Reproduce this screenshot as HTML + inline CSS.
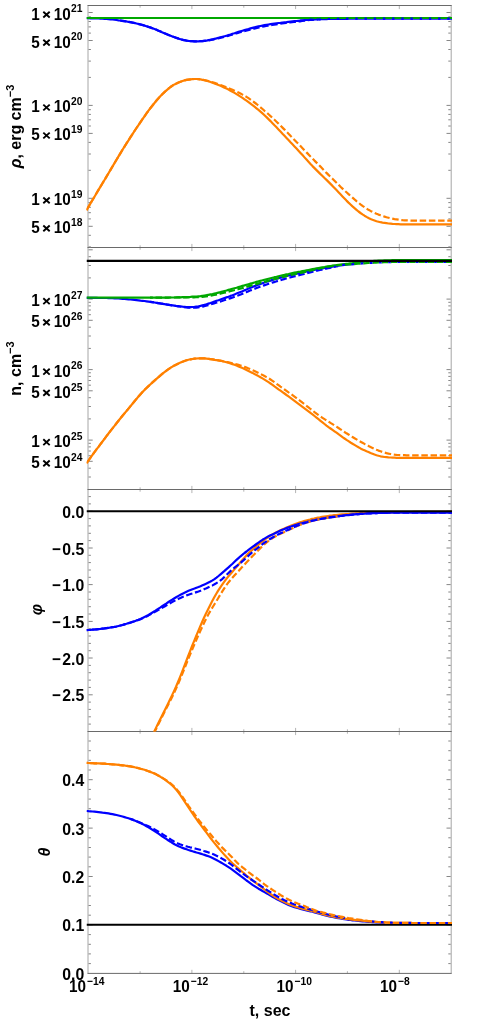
<!DOCTYPE html>
<html><head><meta charset="utf-8"><title>plot</title>
<style>html,body{margin:0;padding:0;background:#fff;}body{width:491px;height:1020px;overflow:hidden;font-family:"Liberation Sans",sans-serif;}</style>
</head><body>
<svg width="491" height="1020" viewBox="0 0 491 1020" style="display:block;will-change:transform">
<rect width="491" height="1020" fill="#fff"/>
<defs>
<clipPath id="c0"><rect x="86.5" y="5.5" width="365.5" height="242.0"/></clipPath>
<clipPath id="c1"><rect x="86.5" y="247.5" width="365.5" height="242.0"/></clipPath>
<clipPath id="c2"><rect x="86.5" y="489.5" width="365.5" height="242.0"/></clipPath>
<clipPath id="c3"><rect x="86.5" y="731.5" width="365.5" height="241.89999999999998"/></clipPath>
</defs>
<path d="M88.0 5.5 L88.0 973.4 M451.2 5.5 L451.2 973.4" fill="none" stroke="#a6a6a6" stroke-width="1"/>
<path d="M140.1 5.5 v2.2 M140.1 247.5 v-2.2 M191.9 5.5 v3.6 M191.9 247.5 v-3.6 M243.8 5.5 v2.2 M243.8 247.5 v-2.2 M295.6 5.5 v3.6 M295.6 247.5 v-3.6 M347.4 5.5 v2.2 M347.4 247.5 v-2.2 M399.3 5.5 v3.6 M399.3 247.5 v-3.6 M140.1 247.5 v2.2 M140.1 489.5 v-2.2 M191.9 247.5 v3.6 M191.9 489.5 v-3.6 M243.8 247.5 v2.2 M243.8 489.5 v-2.2 M295.6 247.5 v3.6 M295.6 489.5 v-3.6 M347.4 247.5 v2.2 M347.4 489.5 v-2.2 M399.3 247.5 v3.6 M399.3 489.5 v-3.6 M140.1 489.5 v2.2 M140.1 731.5 v-2.2 M191.9 489.5 v3.6 M191.9 731.5 v-3.6 M243.8 489.5 v2.2 M243.8 731.5 v-2.2 M295.6 489.5 v3.6 M295.6 731.5 v-3.6 M347.4 489.5 v2.2 M347.4 731.5 v-2.2 M399.3 489.5 v3.6 M399.3 731.5 v-3.6 M140.1 731.5 v2.2 M140.1 973.4 v-2.2 M191.9 731.5 v3.6 M191.9 973.4 v-3.6 M243.8 731.5 v2.2 M243.8 973.4 v-2.2 M295.6 731.5 v3.6 M295.6 973.4 v-3.6 M347.4 731.5 v2.2 M347.4 973.4 v-2.2 M399.3 731.5 v3.6 M399.3 973.4 v-3.6" fill="none" stroke="#b4b4b4" stroke-width="1"/>
<path d="M87.5 5.5 L451.7 5.5 M87.5 247.5 L451.7 247.5 M87.5 489.5 L451.7 489.5 M87.5 731.5 L451.7 731.5 M87.5 973.4 L451.7 973.4" fill="none" stroke="#6a6a6a" stroke-width="1"/>
<path d="M88.5 246.9 h2.4 M450.7 246.9 h-2.4 M88.5 235.3 h2.4 M450.7 235.3 h-2.4 M88.5 226.3 h4.2 M450.7 226.3 h-4.2 M88.5 218.9 h2.4 M450.7 218.9 h-2.4 M88.5 212.7 h2.4 M450.7 212.7 h-2.4 M88.5 207.3 h2.4 M450.7 207.3 h-2.4 M88.5 202.6 h2.4 M450.7 202.6 h-2.4 M88.5 198.3 h4.2 M450.7 198.3 h-4.2 M88.5 170.3 h2.4 M450.7 170.3 h-2.4 M88.5 154.0 h2.4 M450.7 154.0 h-2.4 M88.5 142.4 h2.4 M450.7 142.4 h-2.4 M88.5 133.4 h4.2 M450.7 133.4 h-4.2 M88.5 126.0 h2.4 M450.7 126.0 h-2.4 M88.5 119.8 h2.4 M450.7 119.8 h-2.4 M88.5 114.4 h2.4 M450.7 114.4 h-2.4 M88.5 109.7 h2.4 M450.7 109.7 h-2.4 M88.5 105.4 h4.2 M450.7 105.4 h-4.2 M88.5 77.4 h2.4 M450.7 77.4 h-2.4 M88.5 61.1 h2.4 M450.7 61.1 h-2.4 M88.5 49.5 h2.4 M450.7 49.5 h-2.4 M88.5 40.5 h4.2 M450.7 40.5 h-4.2 M88.5 33.1 h2.4 M450.7 33.1 h-2.4 M88.5 26.9 h2.4 M450.7 26.9 h-2.4 M88.5 21.5 h2.4 M450.7 21.5 h-2.4 M88.5 16.8 h2.4 M450.7 16.8 h-2.4 M88.5 12.5 h4.2 M450.7 12.5 h-4.2 M88.5 477.0 h2.4 M450.7 477.0 h-2.4 M88.5 468.2 h2.4 M450.7 468.2 h-2.4 M88.5 461.3 h4.2 M450.7 461.3 h-4.2 M88.5 455.7 h2.4 M450.7 455.7 h-2.4 M88.5 451.0 h2.4 M450.7 451.0 h-2.4 M88.5 446.9 h2.4 M450.7 446.9 h-2.4 M88.5 443.3 h2.4 M450.7 443.3 h-2.4 M88.5 440.1 h4.2 M450.7 440.1 h-4.2 M88.5 418.9 h2.4 M450.7 418.9 h-2.4 M88.5 406.5 h2.4 M450.7 406.5 h-2.4 M88.5 397.7 h2.4 M450.7 397.7 h-2.4 M88.5 390.8 h4.2 M450.7 390.8 h-4.2 M88.5 385.2 h2.4 M450.7 385.2 h-2.4 M88.5 380.5 h2.4 M450.7 380.5 h-2.4 M88.5 376.4 h2.4 M450.7 376.4 h-2.4 M88.5 372.8 h2.4 M450.7 372.8 h-2.4 M88.5 369.6 h4.2 M450.7 369.6 h-4.2 M88.5 348.4 h2.4 M450.7 348.4 h-2.4 M88.5 336.0 h2.4 M450.7 336.0 h-2.4 M88.5 327.2 h2.4 M450.7 327.2 h-2.4 M88.5 320.3 h4.2 M450.7 320.3 h-4.2 M88.5 314.7 h2.4 M450.7 314.7 h-2.4 M88.5 310.0 h2.4 M450.7 310.0 h-2.4 M88.5 305.9 h2.4 M450.7 305.9 h-2.4 M88.5 302.3 h2.4 M450.7 302.3 h-2.4 M88.5 299.1 h4.2 M450.7 299.1 h-4.2 M88.5 277.9 h2.4 M450.7 277.9 h-2.4 M88.5 265.5 h2.4 M450.7 265.5 h-2.4 M88.5 256.7 h2.4 M450.7 256.7 h-2.4 M88.5 249.8 h4.2 M450.7 249.8 h-4.2 M88.5 724.1 h2.4 M450.7 724.1 h-2.4 M88.5 716.8 h2.4 M450.7 716.8 h-2.4 M88.5 709.4 h2.4 M450.7 709.4 h-2.4 M88.5 702.1 h2.4 M450.7 702.1 h-2.4 M88.5 694.8 h4.2 M450.7 694.8 h-4.2 M88.5 687.4 h2.4 M450.7 687.4 h-2.4 M88.5 680.1 h2.4 M450.7 680.1 h-2.4 M88.5 672.7 h2.4 M450.7 672.7 h-2.4 M88.5 665.4 h2.4 M450.7 665.4 h-2.4 M88.5 658.0 h4.2 M450.7 658.0 h-4.2 M88.5 650.7 h2.4 M450.7 650.7 h-2.4 M88.5 643.4 h2.4 M450.7 643.4 h-2.4 M88.5 636.0 h2.4 M450.7 636.0 h-2.4 M88.5 628.7 h2.4 M450.7 628.7 h-2.4 M88.5 621.4 h4.2 M450.7 621.4 h-4.2 M88.5 614.0 h2.4 M450.7 614.0 h-2.4 M88.5 606.7 h2.4 M450.7 606.7 h-2.4 M88.5 599.3 h2.4 M450.7 599.3 h-2.4 M88.5 592.0 h2.4 M450.7 592.0 h-2.4 M88.5 584.6 h4.2 M450.7 584.6 h-4.2 M88.5 577.3 h2.4 M450.7 577.3 h-2.4 M88.5 570.0 h2.4 M450.7 570.0 h-2.4 M88.5 562.6 h2.4 M450.7 562.6 h-2.4 M88.5 555.3 h2.4 M450.7 555.3 h-2.4 M88.5 548.0 h4.2 M450.7 548.0 h-4.2 M88.5 540.6 h2.4 M450.7 540.6 h-2.4 M88.5 533.3 h2.4 M450.7 533.3 h-2.4 M88.5 525.9 h2.4 M450.7 525.9 h-2.4 M88.5 518.6 h2.4 M450.7 518.6 h-2.4 M88.5 511.2 h4.2 M450.7 511.2 h-4.2 M88.5 503.9 h2.4 M450.7 503.9 h-2.4 M88.5 496.6 h2.4 M450.7 496.6 h-2.4 M88.5 963.6 h2.4 M450.7 963.6 h-2.4 M88.5 953.9 h2.4 M450.7 953.9 h-2.4 M88.5 944.3 h2.4 M450.7 944.3 h-2.4 M88.5 934.6 h2.4 M450.7 934.6 h-2.4 M88.5 924.9 h4.2 M450.7 924.9 h-4.2 M88.5 915.2 h2.4 M450.7 915.2 h-2.4 M88.5 905.5 h2.4 M450.7 905.5 h-2.4 M88.5 895.9 h2.4 M450.7 895.9 h-2.4 M88.5 886.2 h2.4 M450.7 886.2 h-2.4 M88.5 876.5 h4.2 M450.7 876.5 h-4.2 M88.5 866.8 h2.4 M450.7 866.8 h-2.4 M88.5 857.1 h2.4 M450.7 857.1 h-2.4 M88.5 847.5 h2.4 M450.7 847.5 h-2.4 M88.5 837.8 h2.4 M450.7 837.8 h-2.4 M88.5 828.1 h4.2 M450.7 828.1 h-4.2 M88.5 818.4 h2.4 M450.7 818.4 h-2.4 M88.5 808.7 h2.4 M450.7 808.7 h-2.4 M88.5 799.1 h2.4 M450.7 799.1 h-2.4 M88.5 789.4 h2.4 M450.7 789.4 h-2.4 M88.5 779.7 h4.2 M450.7 779.7 h-4.2 M88.5 770.0 h2.4 M450.7 770.0 h-2.4 M88.5 760.3 h2.4 M450.7 760.3 h-2.4 M88.5 750.7 h2.4 M450.7 750.7 h-2.4 M88.5 741.0 h2.4 M450.7 741.0 h-2.4" fill="none" stroke="#868686" stroke-width="1"/>
<g clip-path="url(#c0)">
<path d="M86.5 210.2 L88.5 206.8 L90.5 203.4 L92.5 200.0 L94.5 196.7 L96.5 193.3 L98.5 189.9 L100.5 186.6 L102.5 183.3 L104.5 180.0 L106.5 176.6 L108.5 173.3 L110.5 169.9 L112.5 166.5 L114.5 163.1 L116.5 159.8 L118.5 156.4 L120.5 153.1 L122.5 149.8 L124.5 146.6 L126.5 143.4 L128.5 140.3 L130.5 137.2 L132.5 134.1 L134.5 131.0 L136.5 128.0 L138.5 125.1 L140.5 122.1 L142.5 119.2 L144.5 116.3 L146.5 113.4 L148.5 110.7 L150.5 108.0 L152.5 105.5 L154.5 103.0 L156.5 100.5 L158.5 98.2 L160.5 96.1 L162.5 94.0 L164.5 92.1 L166.5 90.3 L168.5 88.6 L170.5 87.0 L172.5 85.6 L174.5 84.4 L176.5 83.4 L178.5 82.5 L180.5 81.7 L182.5 81.0 L184.5 80.4 L186.5 79.9 L188.5 79.6 L190.5 79.3 L192.5 79.1 L194.5 79.0 L196.5 79.0 L198.5 79.1 L200.5 79.4 L202.5 79.8 L204.5 80.2 L206.5 80.7 L208.5 81.3 L210.5 82.0 L212.5 82.7 L214.5 83.4 L216.5 84.2 L218.5 85.0 L220.5 85.8 L222.5 86.7 L224.5 87.7 L226.5 88.6 L228.5 89.6 L230.5 90.7 L232.5 91.8 L234.5 92.9 L236.5 94.1 L238.5 95.3 L240.5 96.6 L242.5 97.9 L244.5 99.3 L246.5 100.7 L248.5 102.2 L250.5 103.7 L252.5 105.2 L254.5 106.7 L256.5 108.3 L258.5 109.9 L260.5 111.6 L262.5 113.4 L264.5 115.2 L266.5 117.1 L268.5 119.1 L270.5 121.1 L272.5 123.2 L274.5 125.3 L276.5 127.3 L278.5 129.4 L280.5 131.5 L282.5 133.7 L284.5 135.8 L286.5 137.9 L288.5 140.0 L290.5 142.2 L292.5 144.3 L294.5 146.4 L296.5 148.5 L298.5 150.7 L300.5 152.9 L302.5 155.1 L304.5 157.4 L306.5 159.6 L308.5 161.8 L310.5 164.0 L312.5 166.1 L314.5 168.1 L316.5 170.1 L318.5 172.1 L320.5 174.1 L322.5 176.0 L324.5 178.0 L326.5 179.9 L328.5 181.9 L330.5 183.9 L332.5 185.9 L334.5 188.0 L336.5 190.1 L338.5 192.2 L340.5 194.3 L342.5 196.4 L344.5 198.5 L346.5 200.6 L348.5 202.6 L350.5 204.5 L352.5 206.4 L354.5 208.1 L356.5 209.8 L358.5 211.5 L360.5 213.0 L362.5 214.4 L364.5 215.7 L366.5 216.9 L368.5 218.0 L370.5 219.0 L372.5 219.8 L374.5 220.5 L376.5 221.2 L378.5 221.7 L380.5 222.2 L382.5 222.6 L384.5 222.9 L386.5 223.2 L388.5 223.5 L390.5 223.7 L392.5 223.9 L394.5 224.0 L396.5 224.1 L398.5 224.2 L400.5 224.3 L402.5 224.3 L404.5 224.3 L406.5 224.4 L408.5 224.4 L410.5 224.4 L412.5 224.4 L414.5 224.4 L416.5 224.4 L418.5 224.4 L420.5 224.4 L422.5 224.4 L424.5 224.4 L426.5 224.4 L428.5 224.4 L430.5 224.4 L432.5 224.4 L434.5 224.4 L436.5 224.4 L438.5 224.4 L440.5 224.4 L442.5 224.4 L444.5 224.4 L446.5 224.4 L448.5 224.4 L450.5 224.4 L452.5 224.4" fill="none" stroke="#FF8000" stroke-width="2.2" stroke-linejoin="round"/>
<path d="M86.5 18.2 L88.5 18.2 L90.5 18.3 L92.5 18.3 L94.5 18.4 L96.5 18.4 L98.5 18.5 L100.5 18.6 L102.5 18.7 L104.5 18.8 L106.5 18.9 L108.5 19.1 L110.5 19.3 L112.5 19.5 L114.5 19.7 L116.5 20.0 L118.5 20.3 L120.5 20.5 L122.5 20.8 L124.5 21.2 L126.5 21.5 L128.5 21.8 L130.5 22.2 L132.5 22.6 L134.5 23.0 L136.5 23.5 L138.5 24.0 L140.5 24.5 L142.5 25.0 L144.5 25.6 L146.5 26.2 L148.5 26.9 L150.5 27.5 L152.5 28.3 L154.5 29.0 L156.5 29.8 L158.5 30.7 L160.5 31.5 L162.5 32.4 L164.5 33.3 L166.5 34.1 L168.5 34.9 L170.5 35.7 L172.5 36.5 L174.5 37.2 L176.5 37.9 L178.5 38.6 L180.5 39.2 L182.5 39.8 L184.5 40.2 L186.5 40.6 L188.5 40.9 L190.5 41.1 L192.5 41.2 L194.5 41.3 L196.5 41.3 L198.5 41.3 L200.5 41.2 L202.5 41.1 L204.5 40.8 L206.5 40.6 L208.5 40.2 L210.5 39.8 L212.5 39.4 L214.5 38.9 L216.5 38.4 L218.5 37.8 L220.5 37.3 L222.5 36.8 L224.5 36.3 L226.5 35.7 L228.5 35.1 L230.5 34.5 L232.5 33.8 L234.5 33.2 L236.5 32.5 L238.5 31.9 L240.5 31.3 L242.5 30.7 L244.5 30.1 L246.5 29.5 L248.5 29.0 L250.5 28.4 L252.5 27.9 L254.5 27.4 L256.5 26.9 L258.5 26.4 L260.5 26.0 L262.5 25.6 L264.5 25.2 L266.5 24.8 L268.5 24.5 L270.5 24.2 L272.5 23.9 L274.5 23.6 L276.5 23.3 L278.5 23.0 L280.5 22.8 L282.5 22.5 L284.5 22.3 L286.5 22.1 L288.5 21.8 L290.5 21.6 L292.5 21.4 L294.5 21.2 L296.5 21.0 L298.5 20.8 L300.5 20.6 L302.5 20.4 L304.5 20.2 L306.5 20.0 L308.5 19.9 L310.5 19.7 L312.5 19.6 L314.5 19.5 L316.5 19.4 L318.5 19.3 L320.5 19.2 L322.5 19.2 L324.5 19.1 L326.5 19.1 L328.5 19.0 L330.5 19.0 L332.5 18.9 L334.5 18.9 L336.5 18.8 L338.5 18.8 L340.5 18.8 L342.5 18.8 L344.5 18.8 L346.5 18.8 L348.5 18.7 L350.5 18.7 L352.5 18.7 L354.5 18.7 L356.5 18.7 L358.5 18.7 L360.5 18.7 L362.5 18.7 L364.5 18.7 L366.5 18.7 L368.5 18.7 L370.5 18.7 L372.5 18.7 L374.5 18.7 L376.5 18.7 L378.5 18.7 L380.5 18.7 L382.5 18.7 L384.5 18.7 L386.5 18.7 L388.5 18.7 L390.5 18.7 L392.5 18.7 L394.5 18.7 L396.5 18.7 L398.5 18.7 L400.5 18.7 L402.5 18.7 L404.5 18.7 L406.5 18.7 L408.5 18.7 L410.5 18.7 L412.5 18.7 L414.5 18.7 L416.5 18.7 L418.5 18.7 L420.5 18.7 L422.5 18.7 L424.5 18.7 L426.5 18.7 L428.5 18.7 L430.5 18.7 L432.5 18.7 L434.5 18.7 L436.5 18.7 L438.5 18.7 L440.5 18.7 L442.5 18.7 L444.5 18.7 L446.5 18.7 L448.5 18.7 L450.5 18.7 L452.5 18.7" fill="none" stroke="#0000FF" stroke-width="2.2" stroke-linejoin="round"/>
<path d="M86.5 18.0 L452.5 18.0" fill="none" stroke="#00A800" stroke-width="2.2"/>
<path d="M86.5 210.2 L88.5 206.8 L90.5 203.4 L92.5 200.0 L94.5 196.7 L96.5 193.3 L98.5 189.9 L100.5 186.6 L102.5 183.3 L104.5 180.0 L106.5 176.6 L108.5 173.3 L110.5 169.9 L112.5 166.5 L114.5 163.1 L116.5 159.8 L118.5 156.4 L120.5 153.1 L122.5 149.8 L124.5 146.6 L126.5 143.4 L128.5 140.3 L130.5 137.2 L132.5 134.1 L134.5 131.0 L136.5 128.0 L138.5 125.1 L140.5 122.1 L142.5 119.2 L144.5 116.3 L146.5 113.4 L148.5 110.7 L150.5 108.0 L152.5 105.5 L154.5 103.0 L156.5 100.5 L158.5 98.2 L160.5 96.1 L162.5 94.0 L164.5 92.1 L166.5 90.3 L168.5 88.6 L170.5 87.0 L172.5 85.6 L174.5 84.4 L176.5 83.4 L178.5 82.5 L180.5 81.7 L182.5 81.0 L184.5 80.4 L186.5 79.9 L188.5 79.6 L190.5 79.3 L192.5 79.1 L194.5 79.0 L196.5 79.0 L198.5 79.1 L200.5 79.4 L202.5 79.7 L204.5 80.1 L206.5 80.6 L208.5 81.1 L210.5 81.7 L212.5 82.3 L214.5 82.9 L216.5 83.6 L218.5 84.3 L220.5 85.0 L222.5 85.8 L224.5 86.6 L226.5 87.4 L228.5 88.2 L230.5 89.0 L232.5 89.8 L234.5 90.7 L236.5 91.5 L238.5 92.5 L240.5 93.5 L242.5 94.6 L244.5 95.7 L246.5 96.9 L248.5 98.2 L250.5 99.6 L252.5 101.0 L254.5 102.5 L256.5 104.0 L258.5 105.7 L260.5 107.3 L262.5 109.0 L264.5 110.8 L266.5 112.5 L268.5 114.3 L270.5 116.1 L272.5 117.9 L274.5 119.8 L276.5 121.7 L278.5 123.6 L280.5 125.6 L282.5 127.6 L284.5 129.6 L286.5 131.7 L288.5 133.7 L290.5 135.8 L292.5 137.8 L294.5 139.9 L296.5 142.0 L298.5 144.0 L300.5 146.1 L302.5 148.2 L304.5 150.3 L306.5 152.4 L308.5 154.4 L310.5 156.5 L312.5 158.5 L314.5 160.6 L316.5 162.6 L318.5 164.6 L320.5 166.6 L322.5 168.7 L324.5 170.8 L326.5 172.9 L328.5 174.9 L330.5 176.8 L332.5 178.7 L334.5 180.7 L336.5 182.7 L338.5 184.7 L340.5 186.7 L342.5 188.6 L344.5 190.5 L346.5 192.3 L348.5 194.1 L350.5 195.9 L352.5 197.6 L354.5 199.4 L356.5 201.1 L358.5 202.7 L360.5 204.3 L362.5 205.8 L364.5 207.2 L366.5 208.5 L368.5 209.8 L370.5 210.9 L372.5 211.9 L374.5 212.9 L376.5 213.8 L378.5 214.6 L380.5 215.3 L382.5 216.0 L384.5 216.6 L386.5 217.2 L388.5 217.7 L390.5 218.2 L392.5 218.7 L394.5 219.1 L396.5 219.4 L398.5 219.7 L400.5 220.0 L402.5 220.2 L404.5 220.3 L406.5 220.4 L408.5 220.5 L410.5 220.6 L412.5 220.6 L414.5 220.7 L416.5 220.7 L418.5 220.7 L420.5 220.7 L422.5 220.7 L424.5 220.7 L426.5 220.7 L428.5 220.7 L430.5 220.7 L432.5 220.7 L434.5 220.7 L436.5 220.7 L438.5 220.7 L440.5 220.7 L442.5 220.7 L444.5 220.7 L446.5 220.7 L448.5 220.7 L450.5 220.7 L452.5 220.7" fill="none" stroke="#FF8000" stroke-width="2.2" stroke-linejoin="round" stroke-dasharray="6.5 2.7" stroke-dashoffset="0.33"/>
<path d="M120.0 20.5 L122.0 20.8 L124.0 21.1 L126.0 21.4 L128.0 21.8 L130.0 22.1 L132.0 22.5 L134.0 22.9 L136.0 23.4 L138.0 23.9 L140.0 24.4 L142.0 24.9 L144.0 25.4 L146.0 26.1 L148.0 26.7 L150.0 27.4 L152.0 28.1 L154.0 28.8 L156.0 29.6 L158.0 30.5 L160.0 31.3 L162.0 32.2 L164.0 33.0 L166.0 33.9 L168.0 34.7 L170.0 35.5 L172.0 36.3 L174.0 37.0 L176.0 37.8 L178.0 38.4 L180.0 39.1 L182.0 39.6 L184.0 40.1 L186.0 40.5 L188.0 40.9 L190.0 41.1 L192.0 41.2 L194.0 41.3 L196.0 41.3 L198.0 41.3 L200.0 41.2 L202.0 41.1 L204.0 40.9 L206.0 40.7 L208.0 40.4 L210.0 40.1 L212.0 39.7 L214.0 39.3 L216.0 38.8 L218.0 38.4 L220.0 37.9 L222.0 37.4 L224.0 36.9 L226.0 36.4 L228.0 35.9 L230.0 35.3 L232.0 34.7 L234.0 34.1 L236.0 33.5 L238.0 32.9 L240.0 32.3 L242.0 31.8 L244.0 31.2 L246.0 30.6 L248.0 30.1 L250.0 29.6 L252.0 29.1 L254.0 28.6 L256.0 28.1 L258.0 27.6 L260.0 27.2 L262.0 26.8 L264.0 26.4 L266.0 26.0 L268.0 25.7 L270.0 25.3 L272.0 25.0 L274.0 24.7 L276.0 24.4 L278.0 24.1 L280.0 23.8 L282.0 23.5 L284.0 23.2 L286.0 23.0 L288.0 22.7 L290.0 22.5 L292.0 22.2 L294.0 22.0 L296.0 21.8 L298.0 21.5 L300.0 21.3 L302.0 21.0 L304.0 20.7 L306.0 20.5 L308.0 20.2 L310.0 20.0 L312.0 19.8 L314.0 19.7 L316.0 19.5 L318.0 19.4" fill="none" stroke="#0000FF" stroke-width="2.2" stroke-linejoin="round" stroke-dasharray="6.5 2.7" stroke-dashoffset="0.00"/>
<path d="M300.0 20.7 L302.0 20.5 L304.0 20.3 L306.0 20.1 L308.0 19.9 L310.0 19.7 L312.0 19.6 L314.0 19.5 L316.0 19.4 L318.0 19.3 L320.0 19.3 L322.0 19.2 L324.0 19.1 L326.0 19.1 L328.0 19.0 L330.0 19.0 L332.0 18.9 L334.0 18.9 L336.0 18.9 L338.0 18.8 L340.0 18.8 L342.0 18.8 L344.0 18.8 L346.0 18.8 L348.0 18.7 L350.0 18.7 L352.0 18.7 L354.0 18.7 L356.0 18.7 L358.0 18.7 L360.0 18.7 L362.0 18.7 L364.0 18.7 L366.0 18.7 L368.0 18.7 L370.0 18.7 L372.0 18.7 L374.0 18.7 L376.0 18.7 L378.0 18.7 L380.0 18.7 L382.0 18.7 L384.0 18.7 L386.0 18.7 L388.0 18.7 L390.0 18.7 L392.0 18.7 L394.0 18.7 L396.0 18.7 L398.0 18.7 L400.0 18.7 L402.0 18.7 L404.0 18.7 L406.0 18.7 L408.0 18.7 L410.0 18.7 L412.0 18.7 L414.0 18.7 L416.0 18.7 L418.0 18.7 L420.0 18.7 L422.0 18.7 L424.0 18.7 L426.0 18.7 L428.0 18.7 L430.0 18.7 L432.0 18.7 L434.0 18.7 L436.0 18.7 L438.0 18.7 L440.0 18.7 L442.0 18.7 L444.0 18.7 L446.0 18.7 L448.0 18.7 L450.0 18.7 L452.0 18.7 L452.5 18.7" fill="none" stroke="#0000FF" stroke-width="2.2" stroke-dasharray="2.4 6.80" stroke-dashoffset="9.04"/>
</g>
<g clip-path="url(#c1)">
<path d="M86.5 463.4 L88.5 460.5 L90.5 457.6 L92.5 454.8 L94.5 452.1 L96.5 449.4 L98.5 446.8 L100.5 444.1 L102.5 441.5 L104.5 438.8 L106.5 436.2 L108.5 433.5 L110.5 430.9 L112.5 428.4 L114.5 425.8 L116.5 423.3 L118.5 420.8 L120.5 418.3 L122.5 415.8 L124.5 413.4 L126.5 411.0 L128.5 408.6 L130.5 406.1 L132.5 403.7 L134.5 401.3 L136.5 398.9 L138.5 396.5 L140.5 394.2 L142.5 392.0 L144.5 389.9 L146.5 388.0 L148.5 386.1 L150.5 384.2 L152.5 382.4 L154.5 380.6 L156.5 378.8 L158.5 377.1 L160.5 375.4 L162.5 373.7 L164.5 372.1 L166.5 370.6 L168.5 369.2 L170.5 367.8 L172.5 366.6 L174.5 365.4 L176.5 364.4 L178.5 363.4 L180.5 362.5 L182.5 361.7 L184.5 361.0 L186.5 360.3 L188.5 359.8 L190.5 359.3 L192.5 359.0 L194.5 358.7 L196.5 358.5 L198.5 358.3 L200.5 358.3 L202.5 358.3 L204.5 358.4 L206.5 358.6 L208.5 358.8 L210.5 359.1 L212.5 359.4 L214.5 359.8 L216.5 360.1 L218.5 360.4 L220.5 360.8 L222.5 361.3 L224.5 361.7 L226.5 362.2 L228.5 362.8 L230.5 363.4 L232.5 364.1 L234.5 364.8 L236.5 365.6 L238.5 366.4 L240.5 367.2 L242.5 368.1 L244.5 369.0 L246.5 369.9 L248.5 370.9 L250.5 371.9 L252.5 372.9 L254.5 374.0 L256.5 375.0 L258.5 376.1 L260.5 377.3 L262.5 378.4 L264.5 379.6 L266.5 380.9 L268.5 382.2 L270.5 383.5 L272.5 384.9 L274.5 386.4 L276.5 387.8 L278.5 389.3 L280.5 390.7 L282.5 392.1 L284.5 393.5 L286.5 395.0 L288.5 396.4 L290.5 397.8 L292.5 399.3 L294.5 400.8 L296.5 402.3 L298.5 403.8 L300.5 405.3 L302.5 406.8 L304.5 408.3 L306.5 409.8 L308.5 411.3 L310.5 412.9 L312.5 414.4 L314.5 416.0 L316.5 417.6 L318.5 419.2 L320.5 420.8 L322.5 422.4 L324.5 424.0 L326.5 425.6 L328.5 427.1 L330.5 428.5 L332.5 429.9 L334.5 431.3 L336.5 432.7 L338.5 434.2 L340.5 435.6 L342.5 437.1 L344.5 438.5 L346.5 439.9 L348.5 441.2 L350.5 442.5 L352.5 443.7 L354.5 444.9 L356.5 446.1 L358.5 447.3 L360.5 448.4 L362.5 449.4 L364.5 450.3 L366.5 451.2 L368.5 452.0 L370.5 452.9 L372.5 453.7 L374.5 454.5 L376.5 455.2 L378.5 455.8 L380.5 456.3 L382.5 456.7 L384.5 457.0 L386.5 457.2 L388.5 457.4 L390.5 457.5 L392.5 457.6 L394.5 457.7 L396.5 457.8 L398.5 457.8 L400.5 457.8 L402.5 457.8 L404.5 457.8 L406.5 457.9 L408.5 457.9 L410.5 457.9 L412.5 457.9 L414.5 457.9 L416.5 457.9 L418.5 457.9 L420.5 457.9 L422.5 457.9 L424.5 457.9 L426.5 457.9 L428.5 457.9 L430.5 457.9 L432.5 457.9 L434.5 457.9 L436.5 457.9 L438.5 457.9 L440.5 457.9 L442.5 457.9 L444.5 457.8 L446.5 457.8 L448.5 457.8 L450.5 457.8 L452.5 457.8" fill="none" stroke="#FF8000" stroke-width="2.2" stroke-linejoin="round"/>
<path d="M86.5 297.9 L88.5 297.9 L90.5 297.9 L92.5 297.9 L94.5 297.9 L96.5 297.9 L98.5 298.0 L100.5 298.0 L102.5 298.0 L104.5 298.0 L106.5 298.0 L108.5 298.1 L110.5 298.2 L112.5 298.2 L114.5 298.3 L116.5 298.4 L118.5 298.5 L120.5 298.7 L122.5 298.8 L124.5 299.0 L126.5 299.2 L128.5 299.4 L130.5 299.5 L132.5 299.7 L134.5 299.9 L136.5 300.1 L138.5 300.3 L140.5 300.6 L142.5 300.8 L144.5 301.0 L146.5 301.3 L148.5 301.6 L150.5 301.9 L152.5 302.2 L154.5 302.5 L156.5 302.8 L158.5 303.1 L160.5 303.5 L162.5 303.8 L164.5 304.1 L166.5 304.5 L168.5 304.8 L170.5 305.1 L172.5 305.4 L174.5 305.7 L176.5 306.0 L178.5 306.2 L180.5 306.5 L182.5 306.7 L184.5 306.8 L186.5 307.0 L188.5 307.1 L190.5 307.1 L192.5 307.0 L194.5 306.9 L196.5 306.6 L198.5 306.3 L200.5 305.9 L202.5 305.4 L204.5 304.9 L206.5 304.3 L208.5 303.6 L210.5 303.0 L212.5 302.3 L214.5 301.5 L216.5 300.8 L218.5 300.2 L220.5 299.5 L222.5 298.8 L224.5 298.1 L226.5 297.4 L228.5 296.7 L230.5 295.9 L232.5 295.2 L234.5 294.4 L236.5 293.6 L238.5 292.8 L240.5 292.0 L242.5 291.2 L244.5 290.3 L246.5 289.5 L248.5 288.6 L250.5 287.8 L252.5 286.9 L254.5 286.1 L256.5 285.4 L258.5 284.6 L260.5 283.9 L262.5 283.2 L264.5 282.5 L266.5 281.8 L268.5 281.2 L270.5 280.6 L272.5 279.9 L274.5 279.3 L276.5 278.8 L278.5 278.2 L280.5 277.6 L282.5 277.1 L284.5 276.5 L286.5 276.0 L288.5 275.5 L290.5 275.0 L292.5 274.6 L294.5 274.1 L296.5 273.7 L298.5 273.3 L300.5 272.8 L302.5 272.4 L304.5 272.0 L306.5 271.5 L308.5 271.1 L310.5 270.7 L312.5 270.2 L314.5 269.8 L316.5 269.4 L318.5 269.1 L320.5 268.7 L322.5 268.3 L324.5 268.0 L326.5 267.7 L328.5 267.3 L330.5 267.0 L332.5 266.6 L334.5 266.3 L336.5 266.0 L338.5 265.7 L340.5 265.4 L342.5 265.1 L344.5 264.9 L346.5 264.6 L348.5 264.4 L350.5 264.2 L352.5 264.0 L354.5 263.7 L356.0 263.6" fill="none" stroke="#0000FF" stroke-width="2.2" stroke-linejoin="round"/>
<path d="M86.5 297.7 L88.5 297.7 L90.5 297.7 L92.5 297.7 L94.5 297.7 L96.5 297.7 L98.5 297.7 L100.5 297.7 L102.5 297.7 L104.5 297.7 L106.5 297.7 L108.5 297.7 L110.5 297.7 L112.5 297.7 L114.5 297.7 L116.5 297.7 L118.5 297.7 L120.5 297.7 L122.5 297.7 L124.5 297.7 L126.5 297.7 L128.5 297.7 L130.5 297.7 L132.5 297.7 L134.5 297.7 L136.5 297.7 L138.5 297.7 L140.5 297.7 L142.5 297.7 L144.5 297.7 L146.5 297.7 L148.5 297.7 L150.5 297.7 L152.5 297.7 L154.5 297.7 L156.5 297.7 L158.5 297.7 L160.5 297.6 L162.5 297.6 L164.5 297.6 L166.5 297.6 L168.5 297.6 L170.5 297.5 L172.5 297.5 L174.5 297.5 L176.5 297.4 L178.5 297.4 L180.5 297.3 L182.5 297.2 L184.5 297.2 L186.5 297.1 L188.5 297.0 L190.5 296.9 L192.5 296.7 L194.5 296.6 L196.5 296.5 L198.5 296.3 L200.5 296.1 L202.5 295.8 L204.5 295.5 L206.5 295.2 L208.5 294.8 L210.5 294.4 L212.5 294.0 L214.5 293.5 L216.5 293.1 L218.5 292.6 L220.5 292.1 L222.5 291.5 L224.5 291.0 L226.5 290.5 L228.5 289.9 L230.5 289.4 L232.5 288.8 L234.5 288.2 L236.5 287.7 L238.5 287.1 L240.5 286.5 L242.5 285.9 L244.5 285.4 L246.5 284.8 L248.5 284.2 L250.5 283.6 L252.5 283.1 L254.5 282.5 L256.5 281.9 L258.5 281.4 L260.5 280.8 L262.5 280.3 L264.5 279.7 L266.5 279.2 L268.5 278.7 L270.5 278.2 L272.5 277.7 L274.5 277.2 L276.5 276.8 L278.5 276.3 L280.5 275.8 L282.5 275.3 L284.5 274.9 L286.5 274.4 L288.5 274.0 L290.5 273.5 L292.5 273.1 L294.5 272.7 L296.5 272.3 L298.5 271.9 L300.5 271.6 L302.5 271.2 L304.5 270.8 L306.5 270.4 L308.5 270.0 L310.5 269.6 L312.5 269.2 L314.5 268.8 L316.5 268.4 L318.5 268.0 L320.5 267.7 L322.5 267.3 L324.5 267.0 L326.5 266.6 L328.5 266.3 L330.5 266.0 L332.5 265.7 L334.5 265.3 L336.5 265.1 L338.5 264.8 L340.5 264.5 L342.5 264.3 L344.5 264.1 L346.5 263.9 L348.5 263.7 L350.5 263.4 L352.5 263.2 L354.5 262.9 L356.5 262.7 L358.5 262.4 L360.5 262.2 L362.5 261.9 L364.5 261.7 L366.5 261.5 L368.5 261.3 L370.5 261.2 L372.5 261.0 L374.5 260.9 L376.5 260.8 L378.5 260.7 L380.5 260.6 L382.5 260.5 L384.5 260.4 L386.5 260.3 L388.5 260.3 L390.5 260.3 L392.5 260.2 L394.5 260.2 L396.5 260.2 L398.5 260.2 L400.5 260.1 L402.5 260.1 L404.5 260.1 L406.5 260.1 L408.5 260.1 L410.5 260.1 L412.5 260.1 L414.5 260.1 L416.5 260.1 L418.5 260.1 L420.5 260.1 L422.5 260.1 L424.5 260.1 L426.5 260.1 L428.5 260.1 L430.5 260.1 L432.5 260.1 L434.5 260.1 L436.5 260.1 L438.5 260.1 L440.5 260.1 L442.5 260.1 L444.5 260.1 L446.5 260.1 L448.5 260.1 L450.5 260.1 L452.5 260.1" fill="none" stroke="#00A800" stroke-width="2.2" stroke-linejoin="round"/>
<path d="M86.5 463.4 L88.5 460.5 L90.5 457.6 L92.5 454.8 L94.5 452.1 L96.5 449.4 L98.5 446.8 L100.5 444.1 L102.5 441.5 L104.5 438.8 L106.5 436.2 L108.5 433.5 L110.5 430.9 L112.5 428.4 L114.5 425.8 L116.5 423.3 L118.5 420.8 L120.5 418.3 L122.5 415.8 L124.5 413.4 L126.5 411.0 L128.5 408.6 L130.5 406.1 L132.5 403.7 L134.5 401.3 L136.5 398.9 L138.5 396.5 L140.5 394.2 L142.5 392.0 L144.5 389.9 L146.5 388.0 L148.5 386.1 L150.5 384.2 L152.5 382.4 L154.5 380.6 L156.5 378.8 L158.5 377.1 L160.5 375.4 L162.5 373.7 L164.5 372.1 L166.5 370.6 L168.5 369.2 L170.5 367.8 L172.5 366.6 L174.5 365.4 L176.5 364.4 L178.5 363.4 L180.5 362.5 L182.5 361.7 L184.5 361.0 L186.5 360.3 L188.5 359.8 L190.5 359.3 L192.5 359.0 L194.5 358.7 L196.5 358.5 L198.5 358.3 L200.5 358.3 L202.5 358.3 L204.5 358.4 L206.5 358.6 L208.5 358.8 L210.5 359.1 L212.5 359.3 L214.5 359.6 L216.5 359.9 L218.5 360.3 L220.5 360.6 L222.5 361.0 L224.5 361.4 L226.5 361.9 L228.5 362.3 L230.5 362.8 L232.5 363.3 L234.5 363.8 L236.5 364.3 L238.5 364.9 L240.5 365.5 L242.5 366.2 L244.5 366.9 L246.5 367.6 L248.5 368.4 L250.5 369.2 L252.5 370.1 L254.5 371.0 L256.5 371.9 L258.5 372.9 L260.5 373.9 L262.5 374.9 L264.5 376.0 L266.5 377.1 L268.5 378.2 L270.5 379.5 L272.5 380.8 L274.5 382.2 L276.5 383.7 L278.5 385.2 L280.5 386.7 L282.5 388.1 L284.5 389.5 L286.5 390.9 L288.5 392.3 L290.5 393.6 L292.5 395.1 L294.5 396.6 L296.5 398.1 L298.5 399.6 L300.5 401.1 L302.5 402.7 L304.5 404.2 L306.5 405.8 L308.5 407.4 L310.5 409.0 L312.5 410.5 L314.5 412.1 L316.5 413.6 L318.5 415.1 L320.5 416.5 L322.5 417.8 L324.5 419.1 L326.5 420.3 L328.5 421.6 L330.5 422.9 L332.5 424.1 L334.5 425.4 L336.5 426.7 L338.5 428.0 L340.5 429.3 L342.5 430.6 L344.5 432.0 L346.5 433.3 L348.5 434.5 L350.5 435.8 L352.5 437.0 L354.5 438.2 L356.5 439.4 L358.5 440.6 L360.5 441.7 L362.5 442.8 L364.5 443.9 L366.5 444.9 L368.5 445.9 L370.5 446.9 L372.5 447.9 L374.5 448.9 L376.5 449.8 L378.5 450.6 L380.5 451.3 L382.5 452.0 L384.5 452.5 L386.5 453.1 L388.5 453.6 L390.5 454.0 L392.5 454.4 L394.5 454.7 L396.5 454.9 L398.5 455.0 L400.5 455.1 L402.5 455.2 L404.5 455.2 L406.5 455.3 L408.5 455.3 L410.5 455.3 L412.5 455.3 L414.5 455.3 L416.5 455.3 L418.5 455.4 L420.5 455.4 L422.5 455.4 L424.5 455.3 L426.5 455.3 L428.5 455.3 L430.5 455.3 L432.5 455.3 L434.5 455.3 L436.5 455.3 L438.5 455.3 L440.5 455.3 L442.5 455.3 L444.5 455.3 L446.5 455.3 L448.5 455.3 L450.5 455.3 L452.5 455.3" fill="none" stroke="#FF8000" stroke-width="2.2" stroke-linejoin="round" stroke-dasharray="6.5 2.7" stroke-dashoffset="7.26"/>
<path d="M150.0 301.8 L152.0 302.1 L154.0 302.4 L156.0 302.7 L158.0 303.1 L160.0 303.4 L162.0 303.7 L164.0 304.1 L166.0 304.4 L168.0 304.7 L170.0 305.0 L172.0 305.4 L174.0 305.7 L176.0 306.0 L178.0 306.3 L180.0 306.5 L182.0 306.8 L184.0 307.1 L186.0 307.4 L188.0 307.6 L190.0 307.7 L192.0 307.7 L194.0 307.7 L196.0 307.6 L198.0 307.3 L200.0 307.1 L202.0 306.7 L204.0 306.3 L206.0 305.8 L208.0 305.2 L210.0 304.7 L212.0 304.0 L214.0 303.4 L216.0 302.8 L218.0 302.2 L220.0 301.6 L222.0 301.0 L224.0 300.3 L226.0 299.7 L228.0 299.0 L230.0 298.4 L232.0 297.7 L234.0 296.9 L236.0 296.2 L238.0 295.5 L240.0 294.7 L242.0 293.9 L244.0 293.1 L246.0 292.3 L248.0 291.4 L250.0 290.6 L252.0 289.8 L254.0 289.0 L256.0 288.2 L258.0 287.5 L260.0 286.8 L262.0 286.1 L264.0 285.4 L266.0 284.7 L268.0 284.0 L270.0 283.4 L272.0 282.7 L274.0 282.1 L276.0 281.5 L278.0 280.9 L280.0 280.3 L282.0 279.7 L284.0 279.1 L286.0 278.5 L288.0 278.0 L290.0 277.5 L292.0 276.9 L294.0 276.4 L296.0 276.0 L298.0 275.5 L300.0 275.0 L302.0 274.5 L304.0 274.0 L306.0 273.4 L308.0 272.9 L310.0 272.4 L312.0 271.9 L314.0 271.4 L316.0 270.9 L318.0 270.5 L320.0 270.0 L322.0 269.6 L324.0 269.1 L326.0 268.7 L328.0 268.2 L330.0 267.8 L332.0 267.4 L334.0 266.9 L336.0 266.5 L338.0 266.1" fill="none" stroke="#0000FF" stroke-width="2.2" stroke-linejoin="round" stroke-dasharray="6.5 2.7" stroke-dashoffset="2.50"/>
<path d="M150.0 297.7 L152.0 297.7 L154.0 297.7 L156.0 297.7 L158.0 297.7 L160.0 297.6 L162.0 297.6 L164.0 297.6 L166.0 297.6 L168.0 297.6 L170.0 297.5 L172.0 297.5 L174.0 297.5 L176.0 297.5 L178.0 297.4 L180.0 297.4 L182.0 297.4 L184.0 297.4 L186.0 297.4 L188.0 297.4 L190.0 297.4 L192.0 297.4 L194.0 297.3 L196.0 297.2 L198.0 297.1 L200.0 297.0 L202.0 296.9 L204.0 296.6 L206.0 296.4 L208.0 296.1 L210.0 295.8 L212.0 295.4 L214.0 295.0 L216.0 294.6 L218.0 294.2 L220.0 293.8 L222.0 293.3 L224.0 292.8 L226.0 292.3 L228.0 291.8 L230.0 291.3 L232.0 290.8 L234.0 290.3 L236.0 289.7 L238.0 289.2 L240.0 288.6 L242.0 288.1 L244.0 287.5 L246.0 287.0 L248.0 286.4 L250.0 285.9 L252.0 285.3 L254.0 284.7 L256.0 284.2 L258.0 283.6 L260.0 283.0 L262.0 282.5 L264.0 281.9 L266.0 281.4 L268.0 280.9 L270.0 280.3 L272.0 279.8 L274.0 279.3 L276.0 278.8 L278.0 278.3 L280.0 277.8 L282.0 277.3 L284.0 276.8 L286.0 276.3 L288.0 275.8 L290.0 275.3 L292.0 274.8 L294.0 274.3 L296.0 273.9 L298.0 273.5 L300.0 273.0 L302.0 272.6 L304.0 272.1 L306.0 271.6 L308.0 271.2 L310.0 270.7 L312.0 270.2 L314.0 269.7 L316.0 269.3 L318.0 268.8 L320.0 268.4 L322.0 268.0 L324.0 267.5 L326.0 267.1 L328.0 266.7 L330.0 266.3 L332.0 266.0 L334.0 265.7 L336.0 265.4 L338.0 265.2 L340.0 265.0 L342.0 264.9 L344.0 264.8 L346.0 264.7 L348.0 264.5 L350.0 264.4 L352.0 264.3 L354.0 264.1 L356.0 263.9 L358.0 263.7 L360.0 263.6 L362.0 263.4 L364.0 263.3 L366.0 263.2 L368.0 263.0 L370.0 262.9 L372.0 262.8 L374.0 262.7 L376.0 262.6 L378.0 262.5 L380.0 262.4 L382.0 262.3 L384.0 262.2 L386.0 262.2 L388.0 262.1 L390.0 262.1 L392.0 262.0 L394.0 262.0 L396.0 262.0 L398.0 262.0 L400.0 261.9 L402.0 261.9 L404.0 261.9 L406.0 261.9 L408.0 261.9 L410.0 261.9 L412.0 261.9 L414.0 261.9 L416.0 261.9 L418.0 261.9 L420.0 261.9 L422.0 261.9 L424.0 261.9 L426.0 261.9 L428.0 261.9 L430.0 261.9 L432.0 261.9 L434.0 261.9 L436.0 261.9 L438.0 261.9 L440.0 261.9 L442.0 261.9 L444.0 261.9 L446.0 261.9 L448.0 261.9 L450.0 261.9 L452.0 261.9 L452.5 261.9" fill="none" stroke="#00A800" stroke-width="2.2" stroke-linejoin="round" stroke-dasharray="6.5 2.7" stroke-dashoffset="3.68"/>
<path d="M336.0 265.4 L338.0 265.2 L340.0 265.0 L342.0 264.9 L344.0 264.8 L346.0 264.7 L348.0 264.5 L350.0 264.4 L352.0 264.3 L354.0 264.1 L356.0 263.9 L358.0 263.7 L360.0 263.6 L362.0 263.4 L364.0 263.3 L366.0 263.2 L368.0 263.0 L370.0 262.9 L372.0 262.8 L374.0 262.7 L376.0 262.6 L378.0 262.5 L380.0 262.4 L382.0 262.3 L384.0 262.2 L386.0 262.2 L388.0 262.1 L390.0 262.1 L392.0 262.0 L394.0 262.0 L396.0 262.0 L398.0 262.0 L400.0 261.9 L402.0 261.9 L404.0 261.9 L406.0 261.9 L408.0 261.9 L410.0 261.9 L412.0 261.9 L414.0 261.9 L416.0 261.9 L418.0 261.9 L420.0 261.9 L422.0 261.9 L424.0 261.9 L426.0 261.9 L428.0 261.9 L430.0 261.9 L432.0 261.9 L434.0 261.9 L436.0 261.9 L438.0 261.9 L440.0 261.9 L442.0 261.9 L444.0 261.9 L446.0 261.9 L448.0 261.9 L450.0 261.9 L452.0 261.9 L452.5 261.9" fill="none" stroke="#0000FF" stroke-width="2.2" stroke-dasharray="2.7 6.50" stroke-dashoffset="2.93"/>
<path d="M86.5 260.85 L452.5 260.85" fill="none" stroke="#000000" stroke-width="2.1"/>
</g>
<g clip-path="url(#c2)">
<path d="M148.0 744.0 L150.0 740.1 L152.0 736.1 L154.0 732.1 L156.0 727.9 L158.0 723.8 L160.0 719.7 L162.0 715.7 L164.0 711.7 L166.0 707.7 L168.0 703.7 L170.0 699.6 L172.0 695.4 L174.0 691.1 L176.0 686.7 L178.0 682.0 L180.0 677.1 L182.0 672.1 L184.0 666.9 L186.0 661.7 L188.0 656.5 L190.0 651.3 L192.0 646.2 L194.0 641.3 L196.0 636.4 L198.0 631.6 L200.0 626.8 L202.0 622.2 L204.0 617.8 L206.0 613.5 L208.0 609.5 L210.0 605.4 L212.0 601.5 L214.0 597.8 L216.0 594.2 L218.0 590.9 L220.0 587.8 L222.0 584.9 L224.0 582.1 L226.0 579.4 L228.0 576.9 L230.0 574.5 L232.0 572.2 L234.0 569.9 L236.0 567.6 L238.0 565.2 L240.0 562.8 L242.0 560.4 L244.0 558.1 L246.0 555.9 L248.0 553.9 L250.0 551.9 L252.0 550.1 L254.0 548.4 L256.0 546.7 L258.0 545.1 L260.0 543.4 L262.0 541.8 L264.0 540.2 L266.0 538.7 L268.0 537.3 L270.0 535.9 L272.0 534.7 L274.0 533.6 L276.0 532.6 L278.0 531.6 L280.0 530.6 L282.0 529.6 L284.0 528.7 L286.0 527.8 L288.0 526.9 L290.0 526.1 L292.0 525.3 L294.0 524.5 L296.0 523.7 L298.0 523.0 L300.0 522.3 L302.0 521.7 L304.0 521.1 L306.0 520.5 L308.0 520.0 L310.0 519.5 L312.0 518.9 L314.0 518.5 L316.0 518.0 L318.0 517.6 L320.0 517.3 L322.0 516.9 L324.0 516.6 L326.0 516.3 L328.0 516.0 L330.0 515.7 L332.0 515.5 L334.0 515.2 L336.0 515.0 L338.0 514.8 L340.0 514.6 L342.0 514.4 L344.0 514.3 L346.0 514.1 L348.0 514.0 L350.0 513.8 L352.0 513.7 L354.0 513.6 L356.0 513.4 L358.0 513.3 L360.0 513.2 L362.0 513.1 L364.0 513.0 L366.0 512.9 L368.0 512.8 L370.0 512.7 L372.0 512.6 L374.0 512.5 L376.0 512.5 L378.0 512.4 L380.0 512.3 L382.0 512.3 L384.0 512.2 L386.0 512.2 L388.0 512.1 L390.0 512.1 L392.0 512.1 L394.0 512.0 L396.0 512.0 L398.0 512.0 L400.0 512.0 L402.0 512.0 L404.0 512.0 L406.0 512.0 L408.0 512.0 L410.0 512.0 L412.0 512.0 L414.0 511.9 L416.0 511.9 L418.0 511.9 L420.0 511.9 L422.0 511.9 L424.0 511.9 L426.0 511.9 L428.0 511.9 L430.0 511.9 L432.0 511.9 L434.0 511.9 L436.0 511.9 L438.0 511.9 L440.0 511.9 L442.0 511.9 L444.0 511.9 L446.0 511.9 L448.0 511.9 L450.0 511.9 L452.0 511.9 L452.5 511.9" fill="none" stroke="#FF8000" stroke-width="2.2" stroke-linejoin="round"/>
<path d="M86.5 630.2 L88.5 630.0 L90.5 629.9 L92.5 629.7 L94.5 629.5 L96.5 629.3 L98.5 629.1 L100.5 628.9 L102.5 628.6 L104.5 628.4 L106.5 628.1 L108.5 627.8 L110.5 627.5 L112.5 627.2 L114.5 626.9 L116.5 626.5 L118.5 626.0 L120.5 625.5 L122.5 625.0 L124.5 624.4 L126.5 623.8 L128.5 623.1 L130.5 622.5 L132.5 621.8 L134.5 621.2 L136.5 620.4 L138.5 619.7 L140.5 618.9 L142.5 618.0 L144.5 617.0 L146.5 616.0 L148.5 614.9 L150.5 613.7 L152.5 612.5 L154.5 611.3 L156.5 610.0 L158.5 608.7 L160.5 607.4 L162.5 606.0 L164.5 604.7 L166.5 603.4 L168.5 602.0 L170.5 600.7 L172.5 599.5 L174.5 598.2 L176.5 597.0 L178.5 595.9 L180.5 594.8 L182.5 593.7 L184.5 592.7 L186.5 591.7 L188.5 590.8 L190.5 590.0 L192.5 589.2 L194.5 588.5 L196.5 587.7 L198.5 587.0 L200.5 586.2 L202.5 585.3 L204.5 584.4 L206.5 583.5 L208.5 582.5 L210.5 581.5 L212.5 580.4 L214.5 579.1 L216.5 577.6 L218.5 576.0 L220.5 574.3 L222.5 572.6 L224.5 570.9 L226.5 569.1 L228.5 567.4 L230.5 565.5 L232.5 563.7 L234.5 561.8 L236.5 559.9 L238.5 558.1 L240.5 556.3 L242.5 554.7 L244.5 553.0 L246.5 551.5 L248.5 549.9 L250.5 548.4 L252.5 546.9 L254.5 545.5 L256.5 544.0 L258.5 542.6 L260.5 541.2 L262.5 539.8 L264.5 538.6 L266.5 537.4 L268.5 536.3 L270.5 535.3 L272.5 534.4 L274.5 533.5 L276.5 532.5 L278.5 531.6 L280.5 530.6 L282.5 529.7 L284.5 528.9 L286.5 528.1 L288.5 527.4 L290.5 526.7 L292.5 526.0 L294.5 525.4 L296.5 524.7 L298.5 524.1 L300.5 523.6 L302.5 523.1 L304.5 522.5 L306.5 522.0 L308.5 521.5 L310.5 521.1 L312.5 520.6 L314.5 520.2 L316.5 519.8 L318.5 519.4 L320.5 519.0 L322.5 518.6 L324.5 518.2 L326.5 517.9 L328.5 517.6 L330.5 517.2 L332.5 516.9 L334.5 516.6 L336.5 516.4 L338.5 516.1 L340.5 515.8 L342.5 515.6 L344.5 515.4 L346.5 515.2 L348.5 515.0 L350.5 514.8 L352.5 514.6 L354.5 514.4 L356.5 514.2 L358.5 514.1 L360.5 513.9 L362.5 513.8 L364.5 513.7 L366.5 513.5 L368.5 513.4 L370.5 513.3 L372.5 513.2 L374.5 513.1 L376.5 513.1 L378.5 513.0 L380.5 512.9 L382.5 512.9 L384.5 512.8 L386.5 512.8 L388.5 512.7 L390.5 512.7 L392.5 512.7 L394.5 512.6 L396.5 512.6 L398.5 512.6 L400.5 512.6 L402.5 512.6 L404.5 512.6 L406.5 512.6 L408.5 512.6 L410.5 512.6 L412.5 512.6 L414.5 512.6 L416.5 512.6 L418.5 512.6 L420.5 512.6 L422.5 512.6 L424.5 512.6 L426.5 512.6 L428.5 512.6 L430.5 512.6 L432.5 512.6 L434.5 512.6 L436.5 512.6 L438.5 512.6 L440.5 512.6 L442.5 512.6 L444.5 512.6 L446.5 512.6 L448.5 512.6 L450.5 512.6 L452.5 512.6" fill="none" stroke="#0000FF" stroke-width="2.2" stroke-linejoin="round"/>
<path d="M148.6 744.0 L150.6 740.0 L152.6 736.0 L154.6 732.0 L156.6 727.9 L158.6 723.7 L160.6 719.7 L162.6 715.7 L164.6 711.7 L166.6 707.8 L168.6 703.9 L170.6 700.0 L172.6 695.9 L174.6 691.8 L176.6 687.4 L178.6 682.9 L180.6 678.1 L182.6 673.2 L184.6 668.2 L186.6 663.2 L188.6 658.2 L190.6 653.4 L192.6 648.6 L194.6 643.9 L196.6 639.3 L198.6 634.7 L200.6 630.4 L202.6 626.1 L204.6 621.8 L206.6 617.8 L208.6 614.0 L210.6 610.5 L212.6 607.2 L214.6 604.0 L216.6 600.8 L218.6 597.5 L220.6 594.2 L222.6 590.9 L224.6 587.8 L226.6 584.9 L228.6 582.2 L230.6 579.8 L232.6 577.5 L234.6 575.3 L236.6 573.1 L238.6 571.0 L240.6 568.8 L242.6 566.6 L244.6 564.4 L246.6 562.3 L248.6 560.2 L250.6 558.1 L252.6 556.0 L254.6 554.0 L256.6 551.9 L258.6 549.9 L260.6 547.9 L262.6 546.0 L264.6 544.2 L266.6 542.4 L268.6 540.8 L270.6 539.4 L272.6 538.0 L274.6 536.8 L276.6 535.7 L278.6 534.7 L280.6 533.7 L282.6 532.8 L284.6 531.9 L286.6 531.0 L288.6 530.1 L290.6 529.1 L292.6 528.2 L294.6 527.2 L296.6 526.3 L298.6 525.4 L300.6 524.6 L302.6 523.9 L304.6 523.2 L306.6 522.5 L308.6 521.9 L310.6 521.3 L312.6 520.8 L314.6 520.3 L316.6 519.8 L318.6 519.4 L320.6 519.0 L322.6 518.6 L324.6 518.3 L326.6 518.0 L328.6 517.6 L330.6 517.3 L332.6 517.0 L334.6 516.7 L336.6 516.4 L338.6 516.1 L340.0 515.9" fill="none" stroke="#FF8000" stroke-width="2.2" stroke-linejoin="round" stroke-dasharray="6.5 2.7" stroke-dashoffset="6.85"/>
<path d="M86.5 630.2 L88.5 630.0 L90.5 629.9 L92.5 629.7 L94.5 629.5 L96.5 629.3 L98.5 629.1 L100.5 628.9 L102.5 628.6 L104.5 628.4 L106.5 628.1 L108.5 627.8 L110.5 627.5 L112.5 627.2 L114.5 626.9 L116.5 626.5 L118.5 626.0 L120.5 625.5 L122.5 625.0 L124.5 624.4 L126.5 623.8 L128.5 623.2 L130.5 622.6 L132.5 622.0 L134.5 621.3 L136.5 620.7 L138.5 619.9 L140.5 619.2 L142.5 618.3 L144.5 617.4 L146.5 616.4 L148.5 615.4 L150.5 614.3 L152.5 613.2 L154.5 612.1 L156.5 611.0 L158.5 609.9 L160.5 608.8 L162.5 607.6 L164.5 606.5 L166.5 605.3 L168.5 604.2 L170.5 603.0 L172.5 601.9 L174.5 600.8 L176.5 599.8 L178.5 598.8 L180.5 597.9 L182.5 597.0 L184.5 596.2 L186.5 595.4 L188.5 594.7 L190.5 594.0 L192.5 593.4 L194.5 592.8 L196.5 592.1 L198.5 591.5 L200.5 590.8 L202.5 590.0 L204.5 589.1 L206.5 588.3 L208.5 587.3 L210.5 586.4 L212.5 585.4 L214.5 584.3 L216.5 583.1 L218.5 581.9 L220.5 580.4 L222.5 578.8 L224.5 576.9 L226.5 574.9 L228.5 573.0 L230.5 571.1 L232.5 569.3 L234.5 567.7 L236.5 566.1 L238.5 564.5 L240.5 562.9 L242.5 561.2 L244.5 559.4 L246.5 557.6 L248.5 555.7 L250.5 553.8 L252.5 552.1 L254.5 550.4 L256.5 548.8 L258.5 547.3 L260.5 545.7 L262.5 544.2 L264.5 542.7 L266.5 541.3 L268.5 539.9 L270.5 538.7 L272.5 537.5 L274.5 536.4 L276.5 535.3 L278.5 534.3 L280.5 533.3 L282.5 532.4 L284.5 531.5 L286.5 530.6 L288.5 529.7 L290.5 528.7 L292.5 527.8 L294.5 527.0 L296.5 526.1 L298.5 525.3 L300.5 524.5 L302.5 523.8 L304.5 523.1 L306.5 522.5 L308.5 521.9 L310.5 521.3 L312.5 520.8 L314.5 520.3 L316.5 519.8 L318.5 519.4 L320.5 519.0 L322.5 518.7 L324.5 518.3 L326.5 518.0 L328.5 517.7 L330.5 517.4 L332.5 517.1 L334.5 516.9 L336.5 516.6 L338.5 516.3 L340.5 516.0 L342.5 515.8 L344.5 515.5 L346.5 515.3 L348.5 515.1 L350.5 514.8 L352.5 514.6 L354.5 514.4 L356.5 514.3 L358.5 514.1 L360.5 513.9 L362.5 513.8 L364.5 513.7 L366.5 513.5 L368.5 513.4 L370.5 513.3 L372.5 513.2 L374.5 513.1 L376.5 513.1 L378.5 513.0 L380.5 512.9 L382.5 512.9 L384.5 512.8 L386.5 512.8 L388.5 512.7 L390.5 512.7 L392.5 512.7 L394.5 512.6 L396.5 512.6 L398.5 512.6 L400.5 512.6 L402.5 512.6 L404.5 512.6 L406.5 512.6 L408.5 512.6 L410.5 512.6 L412.5 512.6 L414.5 512.6 L416.5 512.6 L418.5 512.6 L420.5 512.6 L422.5 512.6 L424.5 512.6 L426.5 512.6 L428.5 512.6 L430.5 512.6 L432.5 512.6 L434.5 512.6 L436.5 512.6 L438.5 512.6 L440.5 512.6 L442.5 512.6 L444.5 512.6 L446.5 512.6 L448.5 512.6 L450.5 512.6 L452.5 512.6" fill="none" stroke="#0000FF" stroke-width="2.2" stroke-linejoin="round" stroke-dasharray="6.5 2.7" stroke-dashoffset="3.48"/>
<path d="M86.5 511.25 L452.5 511.25" fill="none" stroke="#000000" stroke-width="2.0"/>
</g>
<g clip-path="url(#c3)">
<path d="M86.5 924.8 L452.5 924.8" fill="none" stroke="#000000" stroke-width="2.0"/>
<path d="M86.5 811.0 L88.5 811.2 L90.5 811.3 L92.5 811.5 L94.5 811.7 L96.5 811.9 L98.5 812.1 L100.5 812.3 L102.5 812.6 L104.5 812.8 L106.5 813.1 L108.5 813.4 L110.5 813.8 L112.5 814.2 L114.5 814.6 L116.5 815.0 L118.5 815.5 L120.5 816.0 L122.5 816.5 L124.5 817.1 L126.5 817.7 L128.5 818.3 L130.5 819.0 L132.5 819.7 L134.5 820.5 L136.5 821.3 L138.5 822.2 L140.5 823.1 L142.5 824.1 L144.5 825.1 L146.5 826.2 L148.5 827.3 L150.5 828.5 L152.5 829.8 L154.5 831.0 L156.5 832.3 L158.5 833.7 L160.5 835.1 L162.5 836.5 L164.5 837.8 L166.5 839.1 L168.5 840.5 L170.5 841.7 L172.5 843.0 L174.5 844.2 L176.5 845.2 L178.5 846.2 L180.5 847.1 L182.5 847.9 L184.5 848.6 L186.5 849.3 L188.5 850.0 L190.5 850.6 L192.5 851.3 L194.5 851.9 L196.5 852.5 L198.5 853.0 L200.5 853.6 L202.5 854.3 L204.5 854.9 L206.5 855.6 L208.5 856.3 L210.5 857.1 L212.5 858.0 L214.5 859.0 L216.5 860.0 L218.5 861.1 L220.5 862.2 L222.5 863.4 L224.5 864.6 L226.5 865.8 L228.5 867.1 L230.5 868.4 L232.5 869.8 L234.5 871.3 L236.5 872.8 L238.5 874.3 L240.5 875.9 L242.5 877.4 L244.5 878.9 L246.5 880.5 L248.5 881.9 L250.5 883.4 L252.5 884.8 L254.5 886.1 L256.5 887.4 L258.5 888.7 L260.5 889.8 L262.5 891.0 L264.5 892.1 L266.5 893.2 L268.5 894.4 L270.5 895.6 L272.5 896.7 L274.5 897.9 L276.5 899.0 L278.5 900.1 L280.5 901.1 L282.5 902.1 L284.5 903.1 L286.5 904.0 L288.5 904.9 L290.5 905.7 L292.5 906.4 L294.5 907.1 L296.5 907.7 L298.5 908.3 L300.5 908.9 L302.5 909.4 L304.5 909.9 L306.5 910.4 L308.5 910.9 L310.5 911.3 L312.5 911.8 L314.5 912.4 L316.5 912.9 L318.5 913.5 L320.5 914.0 L322.5 914.6 L324.5 915.1 L326.5 915.6 L328.5 916.1 L330.5 916.6 L332.5 917.0 L334.5 917.4 L336.5 917.8 L338.5 918.2 L340.5 918.5 L342.5 918.9 L344.5 919.2 L346.5 919.5 L348.5 919.8 L350.5 920.0 L352.5 920.3 L354.5 920.5 L356.5 920.7 L358.5 920.9 L360.5 921.1 L362.5 921.3 L364.5 921.4 L366.5 921.6 L368.5 921.8 L370.5 921.9 L372.5 922.1 L374.5 922.2 L376.5 922.4 L378.5 922.5 L380.5 922.6 L382.5 922.7 L384.5 922.8 L385.0 922.9" fill="none" stroke="#0000FF" stroke-width="2.2" stroke-linejoin="round"/>
<path d="M86.5 762.9 L88.5 763.0 L90.5 763.1 L92.5 763.2 L94.5 763.3 L96.5 763.4 L98.5 763.4 L100.5 763.5 L102.5 763.6 L104.5 763.7 L106.5 763.9 L108.5 764.0 L110.5 764.2 L112.5 764.3 L114.5 764.5 L116.5 764.7 L118.5 764.9 L120.5 765.1 L122.5 765.3 L124.5 765.5 L126.5 765.8 L128.5 766.1 L130.5 766.4 L132.5 766.8 L134.5 767.2 L136.5 767.7 L138.5 768.1 L140.5 768.7 L142.5 769.2 L144.5 769.8 L146.5 770.5 L148.5 771.2 L150.5 771.9 L152.5 772.7 L154.5 773.6 L156.5 774.6 L158.5 775.7 L160.5 776.8 L162.5 778.1 L164.5 779.4 L166.5 780.8 L168.5 782.4 L170.5 784.0 L172.5 785.8 L174.5 787.8 L176.5 790.1 L178.5 792.6 L180.5 795.3 L182.5 798.3 L184.5 801.4 L186.5 804.5 L188.5 807.5 L190.5 810.5 L192.5 813.4 L194.5 816.3 L196.5 819.2 L198.5 822.0 L200.5 824.7 L202.5 827.4 L204.5 830.0 L206.5 832.7 L208.5 835.3 L210.5 838.0 L212.5 840.6 L214.5 843.1 L216.5 845.5 L218.5 848.0 L220.5 850.3 L222.5 852.6 L224.5 854.9 L226.5 857.1 L228.5 859.2 L230.5 861.3 L232.5 863.2 L234.5 865.0 L236.5 866.8 L238.5 868.5 L240.5 870.3 L242.5 872.0 L244.5 873.7 L246.5 875.5 L248.5 877.2 L250.5 878.8 L252.5 880.4 L254.5 881.9 L256.5 883.3 L258.5 884.8 L260.5 886.4 L262.5 887.9 L264.5 889.5 L266.5 891.1 L268.5 892.6 L270.5 894.0 L272.5 895.4 L274.5 896.7 L276.5 897.9 L278.5 899.0 L280.5 900.0 L282.5 901.1 L284.5 902.0 L286.5 903.0 L288.5 903.9 L290.5 904.7 L292.5 905.5 L294.5 906.2 L296.5 906.9 L298.5 907.5 L300.5 908.1 L302.5 908.6 L304.5 909.1 L306.5 909.6 L308.5 910.1 L310.5 910.6 L312.5 911.2 L314.5 911.7 L316.5 912.3 L318.5 912.9 L320.5 913.5 L322.5 914.1 L324.5 914.6 L326.5 915.1 L328.5 915.6 L330.5 916.1 L332.5 916.5 L334.5 916.9 L336.5 917.3 L338.5 917.6 L340.5 918.0 L342.5 918.3 L344.5 918.6 L346.5 918.9 L348.5 919.2 L350.5 919.4 L352.5 919.7 L354.5 919.9 L356.5 920.1 L358.5 920.3 L360.5 920.5 L362.5 920.7 L364.5 920.9 L366.5 921.1 L368.5 921.3 L370.5 921.5 L372.5 921.7 L374.5 921.8 L376.5 922.0 L378.5 922.1 L380.5 922.2 L382.5 922.3 L384.5 922.4 L386.5 922.5 L388.5 922.6 L390.5 922.7 L392.5 922.8 L394.5 922.8 L396.5 922.9 L398.5 922.9 L400.5 922.9 L402.5 922.9 L404.5 922.9 L406.5 922.9 L408.5 922.9 L410.5 922.9 L412.5 923.0 L414.5 923.0 L416.5 923.0 L418.5 923.0 L420.5 923.0 L422.5 923.0 L424.5 923.0 L426.5 923.0 L428.5 923.0 L430.5 923.0 L432.5 923.0 L434.5 923.0 L436.5 923.0 L438.5 923.0 L440.5 923.0 L442.5 923.0 L444.5 923.0 L446.5 923.0 L448.5 923.0 L450.5 923.0 L452.5 923.0" fill="none" stroke="#FF8000" stroke-width="2.2" stroke-linejoin="round"/>
<path d="M130.0 818.7 L132.0 819.4 L134.0 820.1 L136.0 820.9 L138.0 821.7 L140.0 822.6 L142.0 823.4 L144.0 824.3 L146.0 825.2 L148.0 826.1 L150.0 827.1 L152.0 828.1 L154.0 829.1 L156.0 830.3 L158.0 831.4 L160.0 832.6 L162.0 833.8 L164.0 835.1 L166.0 836.4 L168.0 837.7 L170.0 839.0 L172.0 840.3 L174.0 841.5 L176.0 842.6 L178.0 843.5 L180.0 844.3 L182.0 845.0 L184.0 845.7 L186.0 846.2 L188.0 846.8 L190.0 847.3 L192.0 847.7 L194.0 848.2 L196.0 848.7 L198.0 849.2 L200.0 849.7 L202.0 850.3 L204.0 851.0 L206.0 851.6 L208.0 852.3 L210.0 853.0 L212.0 853.8 L214.0 854.6 L216.0 855.5 L218.0 856.5 L220.0 857.5 L222.0 858.6 L224.0 859.8 L226.0 861.0 L228.0 862.3 L230.0 863.7 L232.0 865.2 L234.0 866.8 L236.0 868.3 L238.0 869.9 L240.0 871.5 L242.0 873.0 L244.0 874.4 L246.0 875.9 L248.0 877.3 L250.0 878.7 L252.0 880.0 L254.0 881.3 L256.0 882.6 L258.0 883.9 L260.0 885.3 L262.0 886.7 L264.0 888.0 L266.0 889.4 L268.0 890.7 L270.0 891.9 L272.0 893.1 L274.0 894.4 L276.0 895.6 L278.0 896.8 L280.0 897.9 L282.0 899.0 L284.0 900.0 L286.0 900.9 L288.0 901.8 L290.0 902.6 L292.0 903.5 L294.0 904.3 L296.0 905.0 L298.0 905.7 L300.0 906.4 L302.0 907.0 L304.0 907.6 L306.0 908.2 L308.0 908.8 L310.0 909.4 L312.0 910.0 L314.0 910.6 L316.0 911.2 L318.0 911.8 L320.0 912.4 L322.0 912.9 L324.0 913.5 L326.0 914.0 L328.0 914.5 L330.0 915.0 L332.0 915.4 L334.0 915.8 L336.0 916.3 L338.0 916.7 L340.0 917.1 L342.0 917.4 L344.0 917.8 L345.0 918.0" fill="none" stroke="#0000FF" stroke-width="2.2" stroke-linejoin="round" stroke-dasharray="6.5 2.7" stroke-dashoffset="2.09"/>
<path d="M86.5 762.9 L88.5 763.0 L90.5 763.1 L92.5 763.2 L94.5 763.3 L96.5 763.4 L98.5 763.4 L100.5 763.5 L102.5 763.6 L104.5 763.7 L106.5 763.9 L108.5 764.0 L110.5 764.2 L112.5 764.3 L114.5 764.5 L116.5 764.7 L118.5 764.9 L120.5 765.1 L122.5 765.3 L124.5 765.5 L126.5 765.8 L128.5 766.1 L130.5 766.4 L132.5 766.8 L134.5 767.2 L136.5 767.7 L138.5 768.2 L140.5 768.7 L142.5 769.2 L144.5 769.8 L146.5 770.5 L148.5 771.2 L150.5 771.9 L152.5 772.7 L154.5 773.6 L156.5 774.5 L158.5 775.6 L160.5 776.6 L162.5 777.8 L164.5 779.1 L166.5 780.4 L168.5 781.8 L170.5 783.4 L172.5 785.1 L174.5 787.0 L176.5 789.1 L178.5 791.4 L180.5 794.0 L182.5 796.8 L184.5 799.8 L186.5 802.8 L188.5 805.8 L190.5 808.6 L192.5 811.4 L194.5 814.2 L196.5 816.9 L198.5 819.6 L200.5 822.2 L202.5 824.7 L204.5 827.2 L206.5 829.6 L208.5 832.0 L210.5 834.3 L212.5 836.7 L214.5 839.1 L216.5 841.4 L218.5 843.6 L220.5 845.8 L222.5 847.9 L224.5 849.9 L226.5 851.8 L228.5 853.7 L230.5 855.7 L232.5 857.8 L234.5 860.0 L236.5 862.1 L238.5 864.0 L240.5 865.7 L242.5 867.3 L244.5 868.9 L246.5 870.5 L248.5 872.1 L250.5 873.6 L252.5 875.1 L254.5 876.5 L256.5 878.0 L258.5 879.5 L260.5 881.1 L262.5 882.7 L264.5 884.3 L266.5 885.8 L268.5 887.2 L270.5 888.5 L272.5 889.8 L274.5 891.1 L276.5 892.4 L278.5 893.7 L280.5 895.0 L282.5 896.2 L284.5 897.3 L286.5 898.4 L288.5 899.5 L290.5 900.5 L292.5 901.4 L294.5 902.3 L296.5 903.1 L298.5 903.9 L300.5 904.6 L302.5 905.3 L304.5 906.0 L306.5 906.9 L308.5 907.7 L310.5 908.6 L312.5 909.3 L314.5 910.0 L316.5 910.7 L318.5 911.2 L320.5 911.8 L322.5 912.4 L324.5 912.9 L326.5 913.4 L328.5 913.9 L330.5 914.4 L332.5 914.8 L334.5 915.3 L336.5 915.7 L338.5 916.1 L340.5 916.5 L342.5 916.9 L344.5 917.3 L346.5 917.6 L348.5 918.0 L350.5 918.3 L352.5 918.6 L354.5 919.0 L356.5 919.3 L358.5 919.6 L360.5 919.9 L362.5 920.2 L364.5 920.5 L366.5 920.7 L368.5 921.0 L370.5 921.2 L372.5 921.4 L374.5 921.6 L376.5 921.8 L378.5 922.0 L380.5 922.1 L382.5 922.3 L384.5 922.4 L386.5 922.5 L388.5 922.6 L390.5 922.7 L392.5 922.8 L394.5 922.8 L396.5 922.9 L398.5 922.9 L400.5 922.9 L402.5 922.9 L404.5 922.9 L406.5 922.9 L408.5 922.9 L410.5 922.9 L412.5 923.0 L414.5 923.0 L416.5 923.0 L418.5 923.0 L420.5 923.0 L422.5 923.0 L424.5 923.0 L426.5 923.0 L428.5 923.0 L430.5 923.0 L432.5 923.0 L434.5 923.0 L436.5 923.0 L438.5 923.0 L440.5 923.0 L442.5 923.0 L444.5 923.0 L446.5 923.0 L448.5 923.0 L450.5 923.0 L452.5 923.0" fill="none" stroke="#FF8000" stroke-width="2.2" stroke-linejoin="round" stroke-dasharray="6.5 2.7" stroke-dashoffset="5.17"/>
<path d="M372.0 921.4 L374.0 921.6 L376.0 921.8 L378.0 921.9 L380.0 922.1 L382.0 922.2 L384.0 922.3 L386.0 922.5 L388.0 922.6 L390.0 922.7 L392.0 922.7 L394.0 922.8 L396.0 922.9 L398.0 922.9 L400.0 922.9 L402.0 922.9 L404.0 922.9 L406.0 922.9 L408.0 922.9 L410.0 922.9 L412.0 922.9 L414.0 923.0 L416.0 923.0 L418.0 923.0 L420.0 923.0 L422.0 923.0 L424.0 923.0 L426.0 923.0 L428.0 923.0 L430.0 923.0 L432.0 923.0 L434.0 923.0 L436.0 923.0 L438.0 923.0 L440.0 923.0 L442.0 923.0 L444.0 923.0 L446.0 923.0 L448.0 923.0 L450.0 923.0 L452.0 923.0 L452.5 923.0" fill="none" stroke="#0000FF" stroke-width="2.2" stroke-dasharray="2.7 6.50" stroke-dashoffset="0.30"/>
</g>
<g font-family="'Liberation Sans', sans-serif" font-weight="bold" fill="#000"><text transform="translate(71.0,12.2) scale(1,1.08)" text-anchor="start" font-size="10.3">21</text>
<text transform="translate(70.7,19.5) scale(1,1.1)" text-anchor="end" font-size="15.3">10</text>
<path d="M43.3 11.7 L49.7 17.5 M43.3 17.5 L49.7 11.7" stroke="#000" stroke-width="1.9" fill="none"/>
<text transform="translate(31.3,19.5) scale(1,1.1)" text-anchor="start" font-size="15.3">1</text>
<text transform="translate(71.0,105.1) scale(1,1.08)" text-anchor="start" font-size="10.3">20</text>
<text transform="translate(70.7,112.4) scale(1,1.1)" text-anchor="end" font-size="15.3">10</text>
<path d="M43.3 104.6 L49.7 110.4 M43.3 110.4 L49.7 104.6" stroke="#000" stroke-width="1.9" fill="none"/>
<text transform="translate(31.3,112.4) scale(1,1.1)" text-anchor="start" font-size="15.3">1</text>
<text transform="translate(71.0,198.0) scale(1,1.08)" text-anchor="start" font-size="10.3">19</text>
<text transform="translate(70.7,205.3) scale(1,1.1)" text-anchor="end" font-size="15.3">10</text>
<path d="M43.3 197.5 L49.7 203.3 M43.3 203.3 L49.7 197.5" stroke="#000" stroke-width="1.9" fill="none"/>
<text transform="translate(31.3,205.3) scale(1,1.1)" text-anchor="start" font-size="15.3">1</text>
<text transform="translate(71.0,40.2) scale(1,1.08)" text-anchor="start" font-size="10.3">20</text>
<text transform="translate(70.7,47.5) scale(1,1.1)" text-anchor="end" font-size="15.3">10</text>
<path d="M43.3 39.7 L49.7 45.5 M43.3 45.5 L49.7 39.7" stroke="#000" stroke-width="1.9" fill="none"/>
<text transform="translate(31.3,47.5) scale(1,1.1)" text-anchor="start" font-size="15.3">5</text>
<text transform="translate(71.0,133.1) scale(1,1.08)" text-anchor="start" font-size="10.3">19</text>
<text transform="translate(70.7,140.4) scale(1,1.1)" text-anchor="end" font-size="15.3">10</text>
<path d="M43.3 132.6 L49.7 138.4 M43.3 138.4 L49.7 132.6" stroke="#000" stroke-width="1.9" fill="none"/>
<text transform="translate(31.3,140.4) scale(1,1.1)" text-anchor="start" font-size="15.3">5</text>
<text transform="translate(71.0,226.0) scale(1,1.08)" text-anchor="start" font-size="10.3">18</text>
<text transform="translate(70.7,233.3) scale(1,1.1)" text-anchor="end" font-size="15.3">10</text>
<path d="M43.3 225.5 L49.7 231.3 M43.3 231.3 L49.7 225.5" stroke="#000" stroke-width="1.9" fill="none"/>
<text transform="translate(31.3,233.3) scale(1,1.1)" text-anchor="start" font-size="15.3">5</text>
<text transform="translate(71.0,298.8) scale(1,1.08)" text-anchor="start" font-size="10.3">27</text>
<text transform="translate(70.7,306.1) scale(1,1.1)" text-anchor="end" font-size="15.3">10</text>
<path d="M43.3 298.3 L49.7 304.1 M43.3 304.1 L49.7 298.3" stroke="#000" stroke-width="1.9" fill="none"/>
<text transform="translate(31.3,306.1) scale(1,1.1)" text-anchor="start" font-size="15.3">1</text>
<text transform="translate(71.0,369.3) scale(1,1.08)" text-anchor="start" font-size="10.3">26</text>
<text transform="translate(70.7,376.6) scale(1,1.1)" text-anchor="end" font-size="15.3">10</text>
<path d="M43.3 368.8 L49.7 374.6 M43.3 374.6 L49.7 368.8" stroke="#000" stroke-width="1.9" fill="none"/>
<text transform="translate(31.3,376.6) scale(1,1.1)" text-anchor="start" font-size="15.3">1</text>
<text transform="translate(71.0,439.8) scale(1,1.08)" text-anchor="start" font-size="10.3">25</text>
<text transform="translate(70.7,447.1) scale(1,1.1)" text-anchor="end" font-size="15.3">10</text>
<path d="M43.3 439.3 L49.7 445.1 M43.3 445.1 L49.7 439.3" stroke="#000" stroke-width="1.9" fill="none"/>
<text transform="translate(31.3,447.1) scale(1,1.1)" text-anchor="start" font-size="15.3">1</text>
<text transform="translate(71.0,320.0) scale(1,1.08)" text-anchor="start" font-size="10.3">26</text>
<text transform="translate(70.7,327.3) scale(1,1.1)" text-anchor="end" font-size="15.3">10</text>
<path d="M43.3 319.5 L49.7 325.3 M43.3 325.3 L49.7 319.5" stroke="#000" stroke-width="1.9" fill="none"/>
<text transform="translate(31.3,327.3) scale(1,1.1)" text-anchor="start" font-size="15.3">5</text>
<text transform="translate(71.0,390.5) scale(1,1.08)" text-anchor="start" font-size="10.3">25</text>
<text transform="translate(70.7,397.8) scale(1,1.1)" text-anchor="end" font-size="15.3">10</text>
<path d="M43.3 390.0 L49.7 395.8 M43.3 395.8 L49.7 390.0" stroke="#000" stroke-width="1.9" fill="none"/>
<text transform="translate(31.3,397.8) scale(1,1.1)" text-anchor="start" font-size="15.3">5</text>
<text transform="translate(71.0,461.0) scale(1,1.08)" text-anchor="start" font-size="10.3">24</text>
<text transform="translate(70.7,468.3) scale(1,1.1)" text-anchor="end" font-size="15.3">10</text>
<path d="M43.3 460.5 L49.7 466.3 M43.3 466.3 L49.7 460.5" stroke="#000" stroke-width="1.9" fill="none"/>
<text transform="translate(31.3,468.3) scale(1,1.1)" text-anchor="start" font-size="15.3">5</text>
<text transform="translate(84.3,517.8) scale(1,1.1)" text-anchor="end" font-size="15.8">0.0</text>
<text transform="translate(84.3,554.5) scale(1,1.1)" text-anchor="end" font-size="15.8">0.5</text>
<text transform="translate(52.0,554.5) scale(1,1.1)" text-anchor="start" font-size="15.3">−</text>
<text transform="translate(84.3,591.1) scale(1,1.1)" text-anchor="end" font-size="15.8">1.0</text>
<text transform="translate(52.0,591.1) scale(1,1.1)" text-anchor="start" font-size="15.3">−</text>
<text transform="translate(84.3,627.9) scale(1,1.1)" text-anchor="end" font-size="15.8">1.5</text>
<text transform="translate(52.0,627.9) scale(1,1.1)" text-anchor="start" font-size="15.3">−</text>
<text transform="translate(84.3,664.5) scale(1,1.1)" text-anchor="end" font-size="15.8">2.0</text>
<text transform="translate(52.0,664.5) scale(1,1.1)" text-anchor="start" font-size="15.3">−</text>
<text transform="translate(84.3,701.2) scale(1,1.1)" text-anchor="end" font-size="15.8">2.5</text>
<text transform="translate(52.0,701.2) scale(1,1.1)" text-anchor="start" font-size="15.3">−</text>
<text transform="translate(84.3,979.8) scale(1,1.1)" text-anchor="end" font-size="15.8">0.0</text>
<text transform="translate(84.3,931.4) scale(1,1.1)" text-anchor="end" font-size="15.8">0.1</text>
<text transform="translate(84.3,883.0) scale(1,1.1)" text-anchor="end" font-size="15.8">0.2</text>
<text transform="translate(84.3,834.6) scale(1,1.1)" text-anchor="end" font-size="15.8">0.3</text>
<text transform="translate(84.3,786.2) scale(1,1.1)" text-anchor="end" font-size="15.8">0.4</text>
<text transform="translate(86.0,992.0) scale(1,1.1)" text-anchor="end" font-size="15.3">10</text>
<text transform="translate(87.0,985.3) scale(1,1.08)" text-anchor="start" font-size="10.3">−14</text>
<text transform="translate(189.7,992.0) scale(1,1.1)" text-anchor="end" font-size="15.3">10</text>
<text transform="translate(190.7,985.3) scale(1,1.08)" text-anchor="start" font-size="10.3">−12</text>
<text transform="translate(293.4,992.0) scale(1,1.1)" text-anchor="end" font-size="15.3">10</text>
<text transform="translate(294.4,985.3) scale(1,1.08)" text-anchor="start" font-size="10.3">−10</text>
<text transform="translate(397.1,992.0) scale(1,1.1)" text-anchor="end" font-size="15.3">10</text>
<text transform="translate(398.1,985.3) scale(1,1.08)" text-anchor="start" font-size="10.3">−8</text>
<text x="270" y="1016.4" text-anchor="middle" font-size="16">t, sec</text>
<text transform="translate(21.0,126.5) rotate(-90)" text-anchor="middle" font-size="16"><tspan font-style="italic">ρ</tspan>, erg cm<tspan font-size="11" dy="-7.3">−3</tspan></text>
<text transform="translate(21.0,368.5) rotate(-90)" text-anchor="middle" font-size="16">n, cm<tspan font-size="11" dy="-7.3">−3</tspan></text>
<text transform="translate(41.6,609.5) rotate(-90)" text-anchor="middle" font-size="16" font-style="italic">φ</text>
<text transform="translate(50,852) rotate(-90)" text-anchor="middle" font-size="16" font-style="italic">θ</text></g>
</svg>
</body></html>
